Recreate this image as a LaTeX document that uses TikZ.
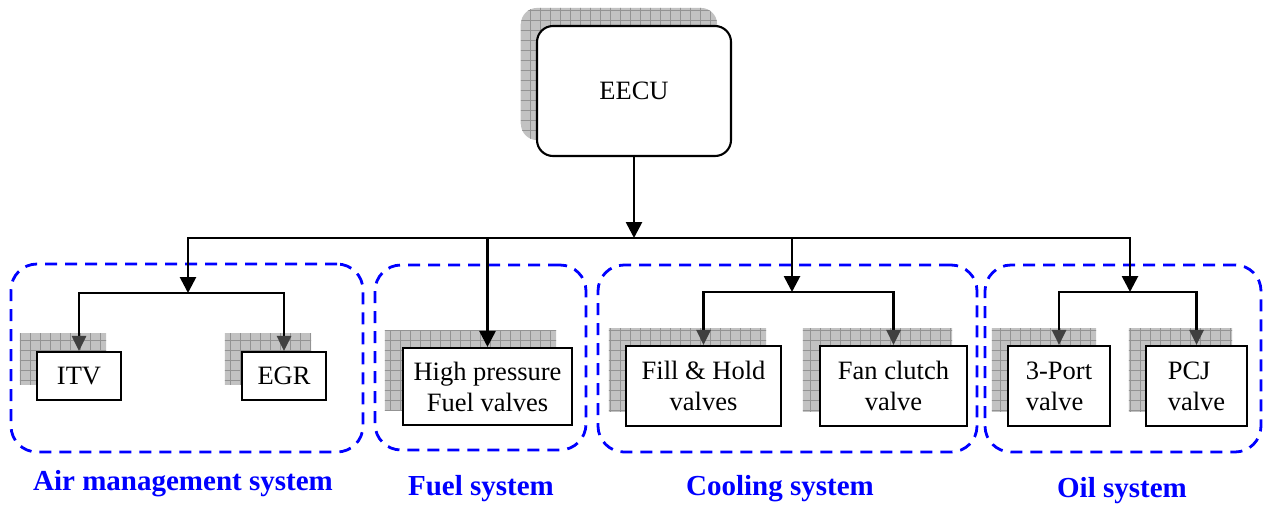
\documentclass[tikz,border=0pt]{standalone}
\usepackage{fontspec}
\setmainfont{Liberation Serif}
\usetikzlibrary{arrows.meta,calc}
\pgfdeclarelayer{bg}
\pgfsetlayers{bg,main}
\tikzset{
 box/.style={draw, line width=2.1pt, fill=white, inner sep=0pt, align=center,
   font=\fontsize{26.5}{31}\selectfont},
 group/.style={draw=blue, line width=2.8pt, dash pattern=on 12pt off 8pt,
   rounded corners=26pt, inner sep=0pt},
 lbl/.style={text=blue, font=\fontsize{29}{32}\selectfont\bfseries, anchor=base, inner sep=0pt},
 conn/.style={line width=2.7pt, line cap=rect},
 arr/.style={conn, -{Triangle[width=16pt,length=16pt]}},
 arrg/.style={conn, -{Triangle[width=14pt,length=15pt,color=black!75]}},
 shfill/.style={fill=gray!48},
 shgrid/.style={draw=gray!85, line width=0.6pt}
}
\newcommand\mkshadow[4][0pt]{%
 \begin{pgfonlayer}{bg}
 \begin{scope}
 \clip[rounded corners=#1] ($(#2.north west)+(#3,#4)$) rectangle ($(#2.south east)+(#3,#4)$);
 \fill[shfill] (0,0) rectangle (1265,504);
 \foreach \gx in {0,10,...,1260} {\draw[shgrid] (\gx,0) -- (\gx,504);}
 \foreach \gy in {0,10,...,500} {\draw[shgrid] (0,\gy) -- (1265,\gy);}
 \end{scope}
 \end{pgfonlayer}}
\begin{document}
\begin{tikzpicture}[x=1pt,y=-1pt]
\useasboundingbox (0,0) rectangle (1265,504);
% group frames
\node[group, minimum width=352pt, minimum height=188pt] (gair) at (187,358) {};
\node[group, minimum width=211pt, minimum height=185pt] (gfuel) at (480.5,357.5) {};
\node[group, minimum width=379pt, minimum height=187pt] (gcool) at (787.5,358.5) {};
\node[group, minimum width=276pt, minimum height=187pt] (goil) at (1123,358.5) {};
% boxes
\node[box, rounded corners=16pt, minimum width=194pt, minimum height=130pt] (eecu) at (634,91) {EECU};
\node[box, minimum width=84pt, minimum height=48pt] (itv) at (79,376) {ITV};
\node[box, minimum width=84pt, minimum height=48pt] (egr) at (284,376) {EGR};
\node[box, minimum width=169pt, minimum height=77pt] (hp) at (487.5,386.5) {High pressure\\Fuel valves};
\node[box, minimum width=155pt, minimum height=80pt] (fh) at (703.5,386) {Fill \& Hold\\valves};
\node[box, minimum width=147pt, minimum height=80pt] (fc) at (893.5,386) {Fan clutch\\valve};
\node[box, align=left, minimum width=102pt, minimum height=80pt] (p3) at (1059,386) {3-Port\\valve};
\node[box, align=left, minimum width=101pt, minimum height=80pt] (pcj) at (1196.5,386) {PCJ\\valve};
% shadows
\mkshadow[16pt]{eecu}{-15}{-17}
\mkshadow{itv}{-16}{-17}
\mkshadow{egr}{-16}{-17}
\mkshadow{hp}{-17}{-16}
\mkshadow{fh}{-16}{-16}
\mkshadow{fc}{-16}{-16}
\mkshadow{p3}{-15}{-16}
\mkshadow{pcj}{-16}{-16}
% connectors
\coordinate (busL) at (188,238);
\coordinate (busR) at (1130,238);
\coordinate (airJ) at (188,293);
\coordinate (coolJ) at (792,292);
\coordinate (oilJ) at (1130,292);
\draw[arr] (busR) -- (busL) -- (airJ);
\draw[arr] (busR) -- (oilJ);
\draw[arr] (eecu.south) -- (eecu.south |- busL);
\draw[arr] (hp.north |- busL) -- (hp.north);
\draw[arr] (coolJ |- busL) -- (coolJ);
\draw[arrg] (airJ) -| (itv.north);
\draw[arrg] (airJ) -| (egr.north);
\draw[arrg] (coolJ) -| (fh.north);
\draw[arrg] (coolJ) -| (fc.north);
\draw[arrg] (oilJ) -| (p3.north);
\draw[arrg] (oilJ) -| (pcj.north);
% labels
\node[lbl] (lair) at (183,490) {Air management system};
\node[lbl] (lfuel) at (481,495) {Fuel system};
\node[lbl] (lcool) at (780,495) {Cooling system};
\node[lbl] (loil) at (1122,497) {Oil system};
\end{tikzpicture}
\end{document}
